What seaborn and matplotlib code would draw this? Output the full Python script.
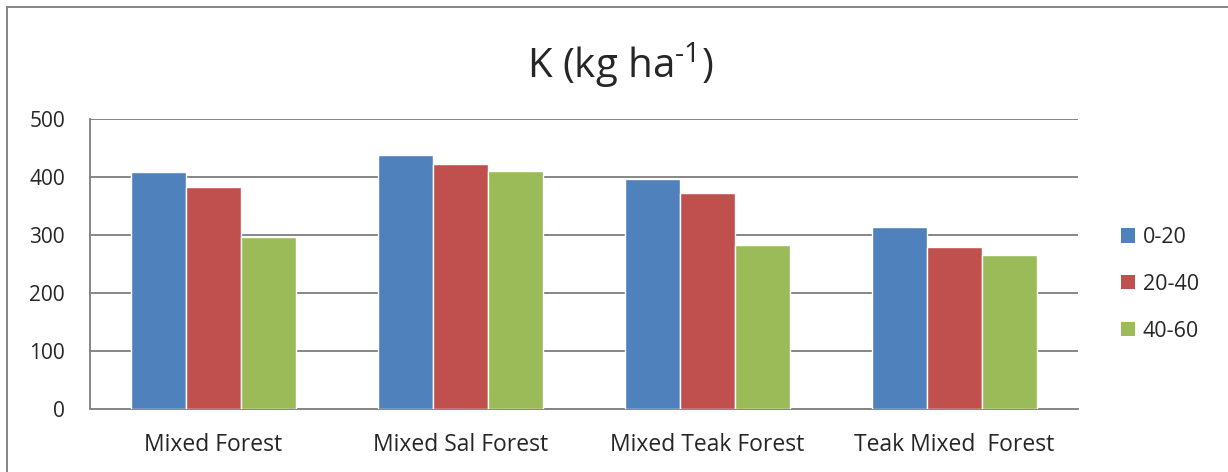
import matplotlib
matplotlib.use("Agg")
import matplotlib.pyplot as plt
from matplotlib.lines import Line2D
from matplotlib.patches import Patch
import pandas as pd
import seaborn as sns

# Potassium content by forest type and soil depth (cm)
forest_types = ["Mixed Forest", "Mixed Sal Forest", "Mixed Teak Forest", "Teak Mixed  Forest"]
depths = ["0-20", "20-40", "40-60"]
k_0_20 = [409, 438, 396, 314]
k_20_40 = [383, 423, 372, 280]
k_40_60 = [296, 411, 283, 266]
colors = ["#4F81BD", "#C0504D", "#9BBB59"]
y_ticks = [0, 100, 200, 300, 400, 500]

rows = []
for depth, vals in zip(depths, [k_0_20, k_20_40, k_40_60]):
    for ft, v in zip(forest_types, vals):
        rows.append({"Forest": ft, "Depth": depth, "K": v})
df = pd.DataFrame(rows)

sns.set_theme(style="white")
plt.rcParams["font.family"] = ["Open Sans", "DejaVu Sans"]
plt.rcParams["mathtext.fontset"] = "custom"
plt.rcParams["mathtext.rm"] = "Open Sans"

fig = plt.figure(figsize=(12.28, 4.72), dpi=100)
ax = fig.add_axes([90 / 1228, 63 / 472, 988 / 1228, 290 / 472])

sns.barplot(data=df, x="Forest", y="K", hue="Depth", order=forest_types,
            hue_order=depths, palette=colors, width=0.67, gap=0,
            saturation=1, errorbar=None, ax=ax, legend=False, zorder=3)

ax.set_ylim(0, 500)
ax.set_xlim(-0.5, len(forest_types) - 0.5)
ax.set_yticks(y_ticks)
ax.set_xlabel("")
ax.set_ylabel("")
ax.yaxis.grid(True, color="#868686", linewidth=1.4, zorder=0)
ax.set_axisbelow(True)
for side in ["top", "right"]:
    ax.spines[side].set_visible(False)
for side in ["left", "bottom"]:
    ax.spines[side].set_color("#868686")
    ax.spines[side].set_linewidth(1.4)
ax.tick_params(axis="y", length=2, color="#868686", pad=16, labelsize=15)
ax.tick_params(axis="x", length=0, pad=17, labelsize=16.5)

handles = [Patch(facecolor=c, edgecolor="none") for c in colors]
ax.legend(handles, depths, loc="center left", bbox_to_anchor=(1.035, 0.43),
          frameon=False, fontsize=15.5, handlelength=0.65, handleheight=0.65,
          handletextpad=0.35, labelspacing=1.2, borderaxespad=0)

fig.text(0.505, 0.862, r"K (kg ha$^{\text{-1}}$)", ha="center",
         va="center", fontsize=29)

# Chart area border (top and left edges)
fig.add_artist(Line2D([7 / 1228, 1], [1 - 7 / 472, 1 - 7 / 472],
                      transform=fig.transFigure, color="#868686", linewidth=1.4))
fig.add_artist(Line2D([7 / 1228, 7 / 1228], [0, 1 - 7 / 472],
                      transform=fig.transFigure, color="#868686", linewidth=1.4))

fig.savefig("out.png", dpi=100)
